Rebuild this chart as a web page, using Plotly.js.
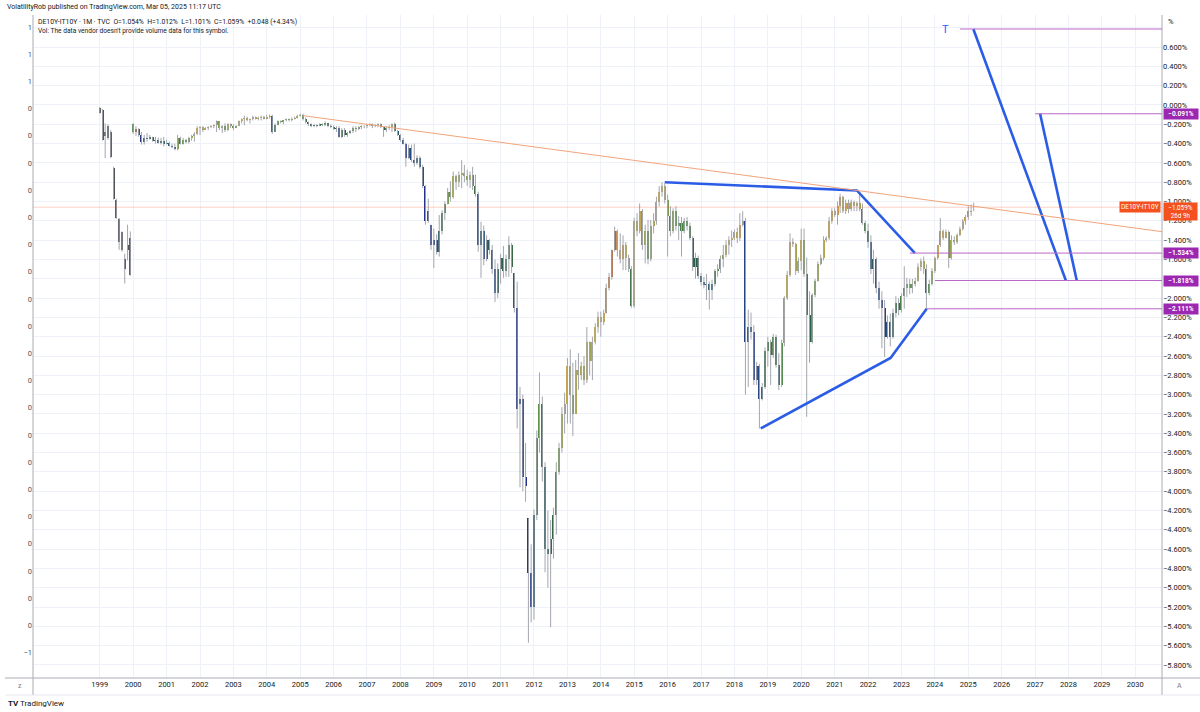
<!DOCTYPE html>
<html>
<head>
<meta charset="utf-8">
<script src="https://cdn.plot.ly/plotly-3.0.1.min.js"></script>
<style>
  html, body { margin: 0; padding: 0; background: #fff; }
  #chart { width: 1200px; height: 712px; }
</style>
</head>
<body>
<div id="chart"></div>
<script>
// DE10Y-IT10Y monthly bars, in %, Jan 1999 .. Mar 2025
var firstYear = 1999;
var greyBars = 12;   // the 1999 bars are plain grey in the snapshot

var open = [
  -0.03,-0.05,-0.32,-0.22,-0.28,-0.65,-0.98,-1.18,-1.32,-1.60,-1.45,-1.38, // 1999
  -0.20,-0.28,-0.25,-0.31,-0.38,-0.34,-0.35,-0.33,-0.37,-0.36,-0.39,-0.37, // 2000
  -0.40,-0.39,-0.42,-0.44,-0.46,-0.34,-0.40,-0.36,-0.38,-0.34,-0.32,-0.30, // 2001
  -0.24,-0.23,-0.26,-0.24,-0.23,-0.22,-0.21,-0.17,-0.24,-0.22,-0.26,-0.20, // 2002
  -0.22,-0.24,-0.22,-0.17,-0.15,-0.13,-0.16,-0.15,-0.12,-0.14,-0.13,-0.12, // 2003
  -0.14,-0.12,-0.11,-0.28,-0.21,-0.17,-0.18,-0.16,-0.15,-0.16,-0.14,-0.13, // 2004
  -0.11,-0.10,-0.14,-0.18,-0.20,-0.22,-0.21,-0.22,-0.20,-0.21,-0.19,-0.22, // 2005
  -0.23,-0.25,-0.24,-0.33,-0.26,-0.31,-0.29,-0.27,-0.24,-0.25,-0.23,-0.22, // 2006
  -0.22,-0.21,-0.20,-0.22,-0.21,-0.20,-0.23,-0.26,-0.24,-0.23,-0.20,-0.27, // 2007
  -0.31,-0.36,-0.40,-0.55,-0.45,-0.57,-0.60,-0.55,-0.64,-0.84,-1.20,-1.24, // 2008
  -1.45,-1.40,-1.52,-1.30,-1.12,-1.03,-0.90,-0.95,-0.74,-0.80,-0.72,-0.70, // 2009
  -0.74,-0.78,-0.72,-0.84,-0.92,-1.45,-1.30,-1.60,-1.40,-1.50,-1.70,-1.95, // 2010
  -1.70,-1.58,-1.72,-1.60,-1.45,-1.74,-2.10,-3.10,-3.05,-3.85,-4.28,-4.85, // 2011
  -5.20,-4.25,-3.45,-3.10,-3.75,-4.60,-4.65,-4.50,-4.25,-3.80,-3.55,-3.20, // 2012
  -3.10,-2.70,-3.00,-3.20,-2.75,-2.80,-2.70,-2.85,-2.45,-2.65,-2.45,-2.30, // 2013
  -2.20,-2.25,-2.15,-1.90,-1.78,-1.50,-1.30,-1.50,-1.60,-1.45,-1.58,-1.70, // 2014
  -2.08,-1.20,-1.31,-1.10,-1.45,-1.30,-1.60,-1.25,-1.20,-1.00,-0.90,-0.84, // 2015
  -0.98,-1.15,-1.30,-1.10,-1.25,-1.22,-1.30,-1.20,-1.25,-1.38,-1.68,-1.58, // 2016
  -1.77,-1.83,-1.86,-1.85,-1.92,-1.85,-1.72,-1.70,-1.60,-1.55,-1.45,-1.40, // 2017
  -1.38,-1.32,-1.38,-1.24,-1.20,-2.45,-2.30,-2.35,-2.85,-2.70,-3.05,-2.92, // 2018
  -2.55,-2.45,-2.59,-2.40,-2.69,-2.90,-2.47,-2.00,-1.76,-1.42,-1.44,-1.72, // 2019
  -1.62,-1.40,-1.75,-2.18,-2.45,-1.97,-1.82,-1.65,-1.58,-1.40,-1.38,-1.20, // 2020
  -1.10,-1.14,-1.05,-0.95,-1.10,-1.02,-1.08,-1.00,-1.05,-1.02,-1.08,-1.22, // 2021
  -1.30,-1.42,-1.70,-1.60,-1.90,-2.02,-2.10,-2.40,-2.25,-2.40,-2.15,-2.05, // 2022
  -2.12,-1.98,-1.90,-1.85,-1.90,-1.85,-1.82,-1.68,-1.62,-1.70,-1.95,-1.85, // 2023
  -1.72,-1.58,-1.45,-1.30,-1.38,-1.32,-1.58,-1.40,-1.42,-1.35,-1.28,-1.20, // 2024
  -1.16,-1.10,-1.054                                                         // 2025
];
var high = [
  -0.02,-0.04,-0.19,-0.20,-0.26,-0.64,-0.97,-1.17,-1.31,-1.54,-1.24,-1.31,
  -0.19,-0.22,-0.24,-0.28,-0.31,-0.29,-0.31,-0.33,-0.33,-0.34,-0.34,-0.33,
  -0.36,-0.38,-0.40,-0.40,-0.31,-0.33,-0.34,-0.35,-0.33,-0.31,-0.28,-0.22,
  -0.22,-0.22,-0.23,-0.22,-0.21,-0.20,-0.16,-0.17,-0.21,-0.19,-0.19,-0.19,
  -0.20,-0.21,-0.16,-0.14,-0.11,-0.12,-0.14,-0.11,-0.12,-0.12,-0.11,-0.11,
  -0.10,-0.10,-0.10,-0.19,-0.16,-0.16,-0.16,-0.14,-0.14,-0.13,-0.12,-0.10,
  -0.09,-0.09,-0.13,-0.17,-0.19,-0.20,-0.20,-0.19,-0.19,-0.17,-0.19,-0.20,
  -0.21,-0.22,-0.22,-0.24,-0.24,-0.28,-0.26,-0.22,-0.22,-0.22,-0.21,-0.21,
  -0.20,-0.19,-0.19,-0.20,-0.19,-0.19,-0.22,-0.22,-0.21,-0.19,-0.18,-0.26,
  -0.30,-0.34,-0.39,-0.41,-0.41,-0.40,-0.52,-0.53,-0.62,-0.83,-0.97,-1.24,
  -1.28,-1.34,-1.14,-1.09,-1.00,-0.86,-0.79,-0.69,-0.72,-0.69,-0.57,-0.62,
  -0.67,-0.69,-0.64,-0.72,-0.90,-1.21,-1.25,-1.35,-1.39,-1.45,-1.60,-1.64,
  -1.54,-1.46,-1.55,-1.36,-1.43,-1.74,-1.83,-2.92,-3.00,-3.50,-4.28,-4.55,
  -4.19,-3.37,-2.77,-3.02,-3.70,-4.20,-4.30,-4.17,-3.70,-3.50,-3.13,-2.98,
  -2.62,-2.53,-2.67,-2.64,-2.57,-2.66,-2.60,-2.30,-2.45,-2.40,-2.26,-2.14,
  -2.14,-2.12,-1.85,-1.74,-1.50,-1.26,-1.29,-1.33,-1.35,-1.42,-1.55,-1.67,
  -1.17,-1.12,-1.02,-1.08,-1.24,-1.19,-1.19,-1.12,-0.95,-0.84,-0.80,-0.81,
  -0.93,-1.05,-1.07,-1.05,-1.15,-1.16,-1.17,-1.16,-1.22,-1.36,-1.53,-1.56,
  -1.74,-1.78,-1.75,-1.83,-1.81,-1.70,-1.65,-1.56,-1.45,-1.40,-1.36,-1.30,
  -1.29,-1.27,-1.12,-1.10,-1.17,-2.12,-2.15,-2.28,-2.66,-2.68,-2.88,-2.51,
  -2.40,-2.43,-2.37,-2.38,-2.57,-2.43,-1.98,-1.72,-1.33,-1.38,-1.43,-1.58,
  -1.28,-1.28,-1.58,-1.93,-1.95,-1.80,-1.62,-1.55,-1.36,-1.36,-1.16,-1.07,
  -1.07,-1.00,-0.92,-0.94,-0.98,-0.98,-0.98,-0.99,-1.00,-0.92,-1.02,-1.20,
  -1.23,-1.35,-1.50,-1.58,-1.83,-1.93,-2.02,-2.18,-2.16,-2.11,-1.98,-2.00,
  -1.95,-1.67,-1.79,-1.80,-1.80,-1.79,-1.64,-1.59,-1.57,-1.65,-1.81,-1.69,
  -1.57,-1.45,-1.17,-1.29,-1.29,-1.30,-1.35,-1.36,-1.33,-1.26,-1.18,-1.14,
  -1.05,-1.03,-1.012
];
var low = [
  -0.09,-0.37,-0.55,-0.36,-0.55,-0.98,-1.18,-1.50,-1.52,-1.85,-1.61,-1.77,
  -0.30,-0.32,-0.33,-0.41,-0.41,-0.38,-0.36,-0.38,-0.40,-0.40,-0.41,-0.43,
  -0.41,-0.43,-0.45,-0.47,-0.47,-0.41,-0.41,-0.40,-0.40,-0.37,-0.38,-0.31,
  -0.31,-0.28,-0.26,-0.26,-0.24,-0.24,-0.28,-0.26,-0.29,-0.28,-0.27,-0.24,
  -0.26,-0.24,-0.22,-0.19,-0.21,-0.17,-0.19,-0.16,-0.15,-0.16,-0.16,-0.15,
  -0.15,-0.14,-0.30,-0.28,-0.21,-0.19,-0.20,-0.17,-0.17,-0.17,-0.15,-0.14,
  -0.12,-0.16,-0.19,-0.22,-0.23,-0.23,-0.23,-0.22,-0.22,-0.22,-0.23,-0.24,
  -0.26,-0.28,-0.34,-0.34,-0.33,-0.33,-0.30,-0.29,-0.28,-0.26,-0.25,-0.24,
  -0.24,-0.22,-0.24,-0.23,-0.23,-0.24,-0.33,-0.28,-0.26,-0.28,-0.28,-0.32,
  -0.38,-0.41,-0.64,-0.56,-0.59,-0.64,-0.62,-0.66,-0.86,-1.24,-1.22,-1.50,
  -1.69,-1.55,-1.57,-1.34,-1.19,-1.03,-1.00,-0.97,-0.88,-0.85,-0.86,-0.80,
  -0.84,-0.86,-0.88,-0.95,-1.52,-1.79,-1.66,-1.62,-1.55,-1.75,-2.04,-2.00,
  -1.85,-1.79,-1.78,-1.78,-1.74,-2.15,-3.35,-3.96,-4.00,-4.11,-5.57,-5.36,
  -5.33,-4.30,-3.60,-3.90,-4.84,-5.00,-5.41,-4.70,-4.45,-3.83,-3.60,-3.40,
  -3.30,-3.30,-3.43,-3.20,-2.95,-2.85,-2.90,-2.88,-2.80,-2.85,-2.48,-2.36,
  -2.40,-2.28,-2.16,-1.92,-1.81,-1.52,-1.57,-1.64,-1.71,-1.71,-1.73,-2.10,
  -2.10,-1.36,-1.33,-1.50,-1.64,-1.65,-1.62,-1.33,-1.24,-1.05,-0.95,-1.02,
  -1.57,-1.36,-1.33,-1.30,-1.40,-1.57,-1.33,-1.30,-1.40,-1.72,-1.80,-1.80,
  -1.87,-1.90,-2.02,-2.12,-2.02,-1.88,-1.78,-1.74,-1.68,-1.58,-1.55,-1.47,
  -1.40,-1.43,-1.41,-1.26,-3.00,-2.92,-2.43,-2.90,-2.90,-3.35,-3.06,-2.94,
  -2.71,-2.90,-2.62,-2.72,-2.95,-2.92,-2.50,-2.02,-1.78,-1.47,-1.76,-1.74,
  -1.71,-1.78,-3.23,-2.67,-2.47,-1.99,-1.83,-1.66,-1.61,-1.42,-1.40,-1.23,
  -1.16,-1.24,-1.12,-1.12,-1.13,-1.12,-1.10,-1.10,-1.10,-1.10,-1.24,-1.33,
  -1.48,-1.75,-1.85,-1.95,-2.11,-2.52,-2.61,-2.42,-2.50,-2.42,-2.20,-2.18,
  -2.15,-2.11,-1.99,-1.96,-1.95,-1.88,-1.83,-1.72,-1.75,-2.11,-1.97,-1.87,
  -1.74,-1.60,-1.47,-1.40,-1.38,-1.69,-1.60,-1.45,-1.44,-1.36,-1.30,-1.24,
  -1.19,-1.15,-1.101
];
var close = [
  -0.08,-0.36,-0.28,-0.34,-0.54,-0.97,-1.17,-1.42,-1.50,-1.70,-1.50,-1.76,
  -0.28,-0.25,-0.31,-0.38,-0.34,-0.35,-0.33,-0.37,-0.36,-0.39,-0.37,-0.40,
  -0.39,-0.42,-0.44,-0.46,-0.34,-0.40,-0.36,-0.38,-0.34,-0.32,-0.30,-0.24,
  -0.23,-0.26,-0.24,-0.23,-0.22,-0.21,-0.17,-0.24,-0.22,-0.26,-0.20,-0.22,
  -0.24,-0.22,-0.17,-0.15,-0.13,-0.16,-0.15,-0.12,-0.14,-0.13,-0.12,-0.14,
  -0.12,-0.11,-0.28,-0.21,-0.17,-0.18,-0.16,-0.15,-0.16,-0.14,-0.13,-0.11,
  -0.10,-0.14,-0.18,-0.20,-0.22,-0.21,-0.22,-0.20,-0.21,-0.19,-0.22,-0.23,
  -0.25,-0.24,-0.33,-0.26,-0.31,-0.29,-0.27,-0.24,-0.25,-0.23,-0.22,-0.22,
  -0.21,-0.20,-0.22,-0.21,-0.20,-0.23,-0.26,-0.24,-0.23,-0.20,-0.27,-0.31,
  -0.36,-0.40,-0.55,-0.45,-0.57,-0.60,-0.55,-0.64,-0.84,-1.20,-1.10,-1.45,
  -1.40,-1.52,-1.30,-1.12,-1.03,-0.90,-0.95,-0.74,-0.80,-0.72,-0.70,-0.74,
  -0.78,-0.72,-0.84,-0.92,-1.45,-1.30,-1.60,-1.40,-1.50,-1.70,-1.95,-1.70,
  -1.58,-1.72,-1.60,-1.45,-1.68,-2.10,-3.15,-3.05,-3.85,-3.95,-4.85,-5.20,
  -4.25,-3.45,-3.10,-3.75,-4.60,-4.65,-4.50,-4.25,-3.80,-3.55,-3.20,-3.10,
  -2.70,-3.00,-3.20,-2.75,-2.80,-2.70,-2.85,-2.45,-2.65,-2.45,-2.30,-2.20,
  -2.25,-2.15,-1.90,-1.78,-1.50,-1.30,-1.50,-1.60,-1.45,-1.58,-1.70,-2.08,
  -1.20,-1.31,-1.10,-1.45,-1.30,-1.60,-1.25,-1.20,-1.00,-0.90,-0.84,-0.98,
  -1.15,-1.30,-1.10,-1.25,-1.22,-1.30,-1.20,-1.25,-1.38,-1.68,-1.58,-1.77,
  -1.83,-1.86,-1.85,-1.92,-1.85,-1.72,-1.70,-1.60,-1.55,-1.45,-1.40,-1.38,
  -1.32,-1.38,-1.24,-1.20,-2.45,-2.30,-2.35,-2.85,-2.70,-3.05,-2.92,-2.55,
  -2.45,-2.59,-2.40,-2.69,-2.90,-2.47,-2.00,-1.76,-1.42,-1.44,-1.72,-1.62,
  -1.40,-1.75,-2.18,-2.45,-1.97,-1.82,-1.65,-1.58,-1.40,-1.38,-1.20,-1.10,
  -1.14,-1.05,-0.95,-1.10,-1.02,-1.08,-1.00,-1.05,-1.02,-1.08,-1.22,-1.30,
  -1.42,-1.70,-1.60,-1.90,-2.02,-2.10,-2.40,-2.25,-2.40,-2.15,-2.05,-2.12,
  -1.98,-1.90,-1.85,-1.90,-1.85,-1.82,-1.68,-1.62,-1.70,-1.95,-1.85,-1.72,
  -1.58,-1.45,-1.30,-1.38,-1.32,-1.58,-1.40,-1.42,-1.35,-1.28,-1.20,-1.16,
  -1.10,-1.107,-1.059
];

// drawings on the chart (anchor points as date / value)
var trendX = ['2005-02-04', '2030-10-20'];
var trendY = [-0.111, -1.312];
var upperWedgeX = ['2015-12-01', '2021-09-01', '2023-05-28'];
var upperWedgeY = [-0.80, -0.885, -1.534];
var lowerWedgeX = ['2018-10-15', '2022-09-04', '2023-10-04'];
var lowerWedgeY = [-3.35, -2.62, -2.111];
var projAX = ['2025-02-25', '2027-12-04'];
var projAY = [0.787, -1.818];
var projBX = ['2027-02-25', '2028-04-01'];
var projBY = [-0.091, -1.818];
var levelValues = [0.787, -0.091, -1.534, -1.818, -2.111];
var levelStart = ['2024-10-01', '2027-01-01', '2023-04-03', '2024-01-03', '2023-10-06'];
var levelLabels = ['', '−0.091%', '−1.534%', '−1.818%', '−2.111%'];

var leftTickText = ['1','1','1','0','0','0','0','0','0','0','0','0',
                    '0','0','0','0','0','0','0','0','0','0','0','−1'];

var xStart = '1997-01-01', xEnd = '2030-10-20';
var yTop = 0.932, yBot = -5.935;

// plot box in pixels, for placing text around it
var L = 33, R = 1162, T = 15, B = 678;
function px(x) { return (x - L) / (R - L); }
function py(y) { return (B - y) / (B - T); }

var dates = [];
for (var i = 0; i < close.length; i++) {
  var yr = firstYear + Math.floor(i / 12);
  var mo = (i % 12) + 1;
  dates.push(yr + '-' + (mo < 10 ? '0' : '') + mo + '-01');
}

// bar colouring: RSI of the closes, fed through a colour scale
function rsi(c, n) {
  var out = [50], g = 0, l = 0;
  for (var i = 1; i < c.length; i++) {
    var d = c[i] - c[i - 1];
    var k = Math.min(i, n);
    g = (g * (k - 1) + Math.max(d, 0)) / k;
    l = (l * (k - 1) + Math.max(-d, 0)) / k;
    out.push(l === 0 ? 100 : 100 - 100 / (1 + g / l));
  }
  return out;
}

var bodyBase = [], bodyLen = [];
for (var i = 0; i < close.length; i++) {
  bodyBase.push(Math.min(open[i], close[i]));
  bodyLen.push(Math.abs(close[i] - open[i]));
}
var mom = rsi(close.slice(greyBars), 8);

var wickX = [], wickY = [];
for (var i = 0; i < close.length; i++) {
  wickX.push(dates[i], dates[i], null);
  wickY.push(low[i], high[i], null);
}

var barW = 22 * 86400000;
var data = [
  {
    type: 'scatter', mode: 'lines', x: wickX, y: wickY,
    line: { color: '#a3a6ad', width: 1 }, hoverinfo: 'skip', showlegend: false
  },
  {
    type: 'bar', x: dates.slice(0, greyBars), y: bodyLen.slice(0, greyBars),
    base: bodyBase.slice(0, greyBars), width: barW,
    marker: { color: '#4a4c52', line: { width: 0 } }, hoverinfo: 'skip', showlegend: false
  },
  {
    type: 'bar', x: dates.slice(greyBars), y: bodyLen.slice(greyBars),
    base: bodyBase.slice(greyBars), width: barW,
    marker: {
      color: mom, cmin: 15, cmax: 85,
      colorscale: [
        [0, '#1b2a8a'], [0.2, '#1f4f78'], [0.36, '#2c5e3d'], [0.5, '#4e8d48'],
        [0.62, '#9aa447'], [0.74, '#c9a650'], [0.86, '#c47d48'], [1, '#9e4a30']
      ],
      line: { width: 0 }
    },
    hoverinfo: 'skip', showlegend: false
  }
];

var blue = { color: '#2b5ce6', width: 2.6 };
[[upperWedgeX, upperWedgeY], [lowerWedgeX, lowerWedgeY],
 [projAX, projAY], [projBX, projBY]].forEach(function (p) {
  data.push({ type: 'scatter', mode: 'lines', x: p[0], y: p[1], yaxis: 'y2',
              line: blue, hoverinfo: 'skip', showlegend: false });
});

// right scale ticks every 0.2 %; 0.8 sits under the % box and -1.8 under its level tag
var rightVals = [], rightText = [];
for (var k = 4; k >= -29; k--) {
  var v = k * 0.2;
  rightVals.push(v);
  if (k === 4 || k === -9) rightText.push('');
  else rightText.push((k < 0 ? '−' : '') + Math.abs(v).toFixed(3) + '%');
}
var leftVals = leftTickText.map(function (t, i) { return 0.808 - 0.2817 * i; });

var yearVals = [], yearText = [];
for (var y = 1999; y <= 2030; y++) { yearVals.push(y + '-01-01'); yearText.push(String(y)); }

var gridC = '#eef1f7', axisC = '#a9acb5', txtC = '#131722';
var font = 'Roboto, "Liberation Sans", sans-serif';
var lastClose = close[close.length - 1];

var shapes = [
  { type: 'line', xref: 'paper', x0: 0, x1: 1, yref: 'y', y0: lastClose, y1: lastClose,
    line: { color: 'rgba(244,81,30,0.25)', width: 1 } },
  { type: 'line', xref: 'x', yref: 'y', x0: trendX[0], y0: trendY[0], x1: trendX[1], y1: trendY[1],
    line: { color: '#f2a47c', width: 1 } },
  // frame pieces, partly outside the plot box
  { type: 'line', xref: 'paper', yref: 'paper', x0: px(5), x1: px(1200), y0: 0, y1: 0,
    line: { color: axisC, width: 1 } },
  { type: 'line', xref: 'paper', yref: 'paper', x0: 0, x1: 0, y0: py(695), y1: 1,
    line: { color: axisC, width: 1 } },
  { type: 'line', xref: 'paper', yref: 'paper', x0: 1, x1: 1, y0: py(695), y1: 1,
    line: { color: axisC, width: 1 } },
  { type: 'line', xref: 'paper', yref: 'paper', x0: px(5), x1: px(1200), y0: py(695), y1: py(695),
    line: { color: '#e6e8ee', width: 1 } }
];
levelValues.forEach(function (v, i) {
  shapes.push({ type: 'line', xref: 'x', yref: 'y', x0: levelStart[i], x1: xEnd, y0: v, y1: v,
                line: { color: '#b867c6', width: 1 } });
});

var annotations = [
  { xref: 'paper', yref: 'paper', x: px(5), y: py(7), xanchor: 'left', yanchor: 'middle',
    text: 'VolatilityRob published on TradingView.com, Mar 05, 2025 11:17 UTC',
    showarrow: false, font: { family: font, size: 7, color: txtC } },
  { xref: 'paper', yref: 'paper', x: px(36), y: py(22), xanchor: 'left', yanchor: 'middle',
    text: 'DE10Y-IT10Y · 1M · TVC  O=1.054%  H=1.012%  L=1.101%  C=1.059%  +0.048 (+4.34%)',
    showarrow: false, font: { family: font, size: 6.8, color: txtC } },
  { xref: 'paper', yref: 'paper', x: px(36), y: py(31), xanchor: 'left', yanchor: 'middle',
    text: 'Vol: The data vendor doesn\'t provide volume data for this symbol.',
    showarrow: false, font: { family: font, size: 6.6, color: txtC } },
  { xref: 'paper', yref: 'paper', x: px(1166), y: py(22), xanchor: 'left', yanchor: 'middle',
    text: '%', showarrow: false, font: { family: font, size: 7.5, color: txtC } },
  { xref: 'paper', yref: 'y', x: px(945), y: levelValues[0], xanchor: 'center', yanchor: 'middle',
    text: 'T', showarrow: false, font: { family: font, size: 11, color: '#2962ff' } },
  { xref: 'paper', yref: 'y', x: px(1161), y: lastClose, xanchor: 'right', yanchor: 'middle',
    text: 'DE10Y-IT10Y', showarrow: false, bgcolor: '#f4511e', borderpad: 1,
    font: { family: font, size: 6.5, color: '#ffffff' } },
  { xref: 'paper', yref: 'paper', x: px(1163), y: py(202), xanchor: 'left', yanchor: 'top',
    text: '−1.059%<br>26d 9h', showarrow: false, bgcolor: '#f4511e', borderpad: 0.5,
    width: 32, align: 'center', font: { family: font, size: 6.3, color: '#ffffff' } },
  { xref: 'paper', yref: 'paper', x: px(20), y: py(686), xanchor: 'center', yanchor: 'middle',
    text: 'z', showarrow: false, font: { family: font, size: 7, color: '#787b86' } },
  { xref: 'paper', yref: 'paper', x: px(1179), y: py(686), xanchor: 'center', yanchor: 'middle',
    text: 'A', showarrow: false, font: { family: font, size: 7, color: '#787b86' } },
  { xref: 'paper', yref: 'paper', x: px(6), y: py(703), xanchor: 'left', yanchor: 'middle',
    text: '<b>TV</b> TradingView', showarrow: false, font: { family: font, size: 8, color: '#131722' } }
];
levelLabels.forEach(function (t, i) {
  if (!t) return;
  annotations.push({ xref: 'paper', yref: 'y', x: px(1163), y: levelValues[i],
    xanchor: 'left', yanchor: 'middle', text: '<b>' + t + '</b>', showarrow: false,
    bgcolor: '#9c27b0', borderpad: 1, width: 32, align: 'center',
    font: { family: font, size: 6.5, color: '#ffffff' } });
});

var layout = {
  width: 1200, height: 712,
  margin: { l: L, r: 1200 - R, t: T, b: 712 - B, pad: 0 },
  paper_bgcolor: '#ffffff', plot_bgcolor: '#ffffff',
  barmode: 'overlay', bargap: 0, showlegend: false,
  font: { family: font, color: txtC },
  xaxis: {
    type: 'date', range: [xStart, xEnd], tickvals: yearVals, ticktext: yearText,
    showgrid: true, gridcolor: gridC, gridwidth: 1, zeroline: false,
    showline: false, ticks: '', tickfont: { size: 7.5, color: txtC }, automargin: false
  },
  yaxis: {
    side: 'right', range: [yBot, yTop], tickvals: rightVals, ticktext: rightText,
    showgrid: true, gridcolor: gridC, gridwidth: 1, zeroline: false,
    showline: false, ticks: '', tickfont: { size: 7.5, color: txtC }, automargin: false
  },
  yaxis2: {
    overlaying: 'y', side: 'left', range: [yBot, yTop], tickvals: leftVals, ticktext: leftTickText,
    showgrid: false, zeroline: false, showline: false, ticks: '',
    tickfont: { size: 7.5, color: '#50535e' }, automargin: false
  },
  shapes: shapes,
  annotations: annotations
};

Plotly.newPlot('chart', data, layout, { displayModeBar: false, staticPlot: true });
</script>
</body>
</html>
